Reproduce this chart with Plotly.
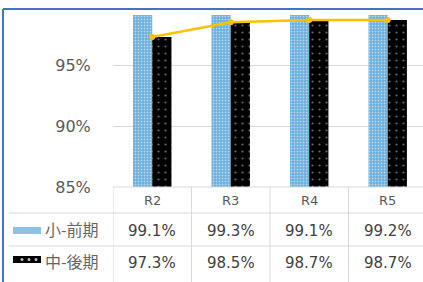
import plotly.graph_objects as go

categories = ["R2", "R3", "R4", "R5"]
series_names = ["小-前期", "中-後期"]
small_early = [99.1, 99.3, 99.1, 99.2]
mid_late = [97.3, 98.5, 98.7, 98.7]
y_ticks = [85, 90, 95]

W, H = 423, 282
def py(p):
    return 1 - p / H
def px(p):
    return p / W

FONT = "DejaVu Sans"
GRAY = "#595959"
LINE = "#d9d9d9"

fig = go.Figure()
fig.add_trace(go.Bar(
    x=categories, y=small_early, name=series_names[0],
    marker=dict(color="#7db8e0", line=dict(width=0),
                pattern=dict(shape=".", bgcolor="#6aaedb", fgcolor="#ffffff",
                             size=3, solidity=0.3)),
))
fig.add_trace(go.Bar(
    x=categories, y=mid_late, name=series_names[1],
    marker=dict(color="#000000", line=dict(width=0),
                pattern=dict(shape=".", bgcolor="#000000", fgcolor="#cfcfcf",
                             size=7, solidity=0.08)),
))
fig.add_trace(go.Scatter(
    x=categories, y=mid_late, mode="lines+markers",
    line=dict(color="#FFC000", width=2.5),
    marker=dict(color="#FFC000", size=6),
    showlegend=False,
))

shapes = []
# table lines
shapes.append(dict(type="line", xref="paper", yref="paper", x0=px(113), x1=1,
                   y0=py(187), y1=py(187), line=dict(color=LINE, width=1)))
for yy in (213, 246):
    shapes.append(dict(type="line", xref="paper", yref="paper", x0=px(9), x1=1,
                       y0=py(yy), y1=py(yy), line=dict(color=LINE, width=1)))
for xv in (-0.5, 0.5, 1.5, 2.5):
    shapes.append(dict(type="line", xref="x", yref="paper", x0=xv, x1=xv,
                       y0=0, y1=py(187), line=dict(color=LINE, width=1)))
# legend swatches
shapes.append(dict(type="rect", xref="paper", yref="paper", x0=px(13), x1=px(41),
                   y0=py(234), y1=py(227), fillcolor="#8cc2e6", line=dict(width=0)))
shapes.append(dict(type="rect", xref="paper", yref="paper", x0=px(13), x1=px(41),
                   y0=py(263), y1=py(256), fillcolor="#000000", line=dict(width=0)))
for cx in (22, 29, 36):
    shapes.append(dict(type="circle", xref="paper", yref="paper",
                       x0=px(cx - 1.5), x1=px(cx + 1.5), y0=py(261), y1=py(258),
                       fillcolor="#bbbbbb", line=dict(width=0)))
# blue frame
shapes.append(dict(type="line", xref="paper", yref="paper", x0=px(3), x1=1,
                   y0=py(9), y1=py(9), line=dict(color="#4472c4", width=2)))
shapes.append(dict(type="line", xref="paper", yref="paper", x0=px(3), x1=px(3),
                   y0=0, y1=py(9), line=dict(color="#4472c4", width=2)))

annotations = []
for c in categories:
    annotations.append(dict(x=c, y=py(200), xref="x", yref="paper", text=c,
                            xanchor="center", yanchor="middle",
                            showarrow=False, font=dict(family=FONT, size=13, color=GRAY)))
for c, v in zip(categories, small_early):
    annotations.append(dict(x=c, y=py(231), xref="x", yref="paper", text=f"{v:.1f}%",
                            xanchor="center", yanchor="middle",
                            showarrow=False, font=dict(family=FONT, size=15, color="#404040")))
for c, v in zip(categories, mid_late):
    annotations.append(dict(x=c, y=py(263), xref="x", yref="paper", text=f"{v:.1f}%",
                            xanchor="center", yanchor="middle",
                            showarrow=False, font=dict(family=FONT, size=15, color="#404040")))
for name, yy in zip(series_names, (229, 261)):
    annotations.append(dict(x=px(43), y=py(yy), xref="paper", yref="paper", text=name,
                            xanchor="left", yanchor="middle", showarrow=False,
                            font=dict(family="Noto Sans CJK JP", size=16, color="#666666")))

fig.update_layout(
    autosize=True,
    margin=dict(l=0, r=0, t=0, b=0, autoexpand=False),
    paper_bgcolor="white", plot_bgcolor="white",
    barmode="group", bargap=0.51, bargroupgap=0,
    showlegend=False,
    shapes=shapes, annotations=annotations,
    xaxis=dict(domain=[px(113), 1], range=[-0.5, 3.45], showticklabels=False,
               showgrid=False, zeroline=False, showline=False, ticks=""),
    yaxis=dict(domain=[py(187), py(15)], range=[85, 99.1], tickvals=y_ticks,
               ticktext=[f"{t}%" for t in y_ticks], showgrid=True, gridcolor=LINE,
               gridwidth=1, zeroline=False, showline=False, ticks="outside",
               ticklen=18, tickcolor="rgba(0,0,0,0)",
               tickfont=dict(family=FONT, size=16, color=GRAY)),
)

post = ("var g=document.getElementById('{plot_id}');"
        "g.style.position='fixed';g.style.top='0px';g.style.left='0px';"
        "document.body.style.margin='0';document.body.style.overflow='hidden';"
        "document.documentElement.style.overflow='hidden';")
fig.write_html("out.html", config={"displayModeBar": False, "responsive": True},
               default_width="100vw", default_height="100vh", post_script=post)
